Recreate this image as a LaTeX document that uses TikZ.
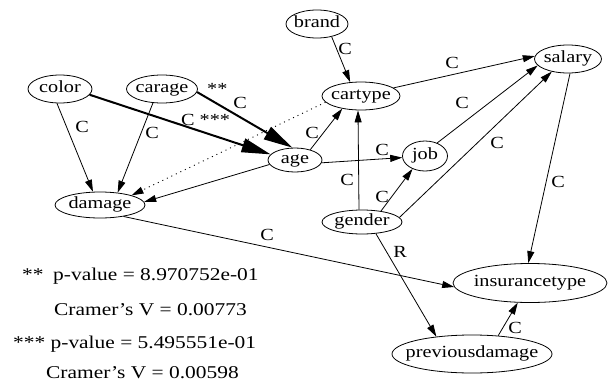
\documentclass[tikz,border=0pt]{standalone}
\usepackage{fontspec}
\setmainfont{Liberation Serif}[FakeStretch=1.19]
\usetikzlibrary{shapes.geometric,arrows.meta}
% node text is centred on its own, so the ellipse size comes from the minimum sizes only
\newcommand\vname[1]{\makebox[0pt]{#1}}
\begin{document}
\begin{tikzpicture}[x=1pt,y=-1pt,
  var/.style={ellipse,draw,line width=0.8pt,inner sep=0pt,text height=11.5pt,text depth=3.7pt,
    font=\fontsize{17}{20}\selectfont},
  lab/.style={inner sep=0pt,font=\fontsize{17}{20}\selectfont},
  note/.style={inner sep=0pt,anchor=base west,font=\fontsize{18}{20}\selectfont},
  rel/.style={line width=0.8pt,-{Triangle[length=12pt,width=7pt]}},
  strong/.style={line width=2pt,-{Triangle[length=29pt,width=14pt]}},
  weak/.style={line width=0.9pt,dash pattern=on 1pt off 4pt,-{Triangle[length=12pt,width=7pt]}}]
\useasboundingbox (0,0) rectangle (608,383);

% variables
\node[var,minimum width=62,minimum height=28] (brand) at (317,24) {\vname{brand}};
\node[var,minimum width=78,minimum height=28] (cartype) at (361,96) {\vname{cartype}};
\node[var,minimum width=67,minimum height=28] (salary) at (568,59) {\vname{salary}};
\node[var,minimum width=64,minimum height=28] (color) at (60,89) {\vname{color}};
\node[var,minimum width=71,minimum height=28] (carage) at (162,89) {\vname{carage}};
\node[var,minimum width=54,minimum height=24] (age) at (295,160) {\vname{age}};
\node[var,minimum width=45,minimum height=30] (job) at (425,156) {\vname{job}};
\node[var,minimum width=90,minimum height=26] (damage) at (100,205) {\vname{damage}};
\node[var,minimum width=80,minimum height=24] (gender) at (362,222) {\vname{gender}};
\node[var,minimum width=154,minimum height=39] (insurancetype) at (530,283) {\vname{insurancetype}};
\node[var,minimum width=160,minimum height=38] (previousdamage) at (472,354) {\vname{previousdamage}};

% dependencies
\draw[rel] (brand.-41) -- (cartype.128);
\draw[rel] (cartype.14) -- (salary.175);
\draw[rel] (color.-102) -- (damage.118);
\draw[rel] (carage.-123) -- (damage.35);
\draw[strong] (color.-11) -- (age.167);
\draw[strong] (carage.-5) -- (age.102);
\draw[weak] (cartype.-170) -- (damage.17);
\draw[rel] (age.-170) -- (damage.4);
\draw[rel] (age.34) -- (cartype.-146);
\draw[rel] (age.-6) -- (job.184);
\draw[rel] ([xshift=-3pt]gender.north) -- ([xshift=-3pt]cartype.south);
\draw[rel] (gender.30) -- (job.-134);
\draw[rel] (job.47) -- (salary.-168);
\draw[rel] (gender.7) -- (salary.-142);
\draw[rel] (salary.-82) -- (insurancetype.95);
\draw[rel] (damage.-26) -- (insurancetype.-177);
\draw[rel] (gender.-40) -- (previousdamage.154);
\draw[rel] (previousdamage.35) -- (insurancetype.-122);

% edge labels
\node[lab] (l-brand) at (345,49) {C};
\node[lab] (l-cartype) at (452,63) {C};
\node[lab] (l-job) at (462,103) {C};
\node[lab] (l-gsal) at (497,143) {C};
\node[lab] (l-salary) at (558,182) {C};
\node[lab] (l-agecar) at (312,133) {C};
\node[lab] (l-agejob) at (382,150) {C};
\node[lab] (l-gcar) at (347,180) {C};
\node[lab] (l-gjob) at (382,197) {C};
\node[lab] (l-color) at (82,127) {C};
\node[lab] (l-carage) at (152,133) {C};
\node[lab,anchor=base west] (l-colage) at (181,125) {C ***};
\node[lab,anchor=base west] (l-star2) at (207,94) {**};
\node[lab] (l-carageage) at (240,103) {C};
\node[lab] (l-damage) at (267,235) {C};
\node[lab] (l-gprev) at (400,252) {R};
\node[lab] (l-prev) at (515,328) {C};

% test statistics
\node[note] (s2) at (22,280) {**};
\node[note] (p2) at (53,280) {p-value = 8.970752e-01};
\node[note] (v2) at (54,315) {Cramer's V = 0.00773};
\node[note] (p3) at (13,348) {*** p-value = 5.495551e-01};
\node[note] (v3) at (46,378) {Cramer's V = 0.00598};
\end{tikzpicture}
\end{document}
